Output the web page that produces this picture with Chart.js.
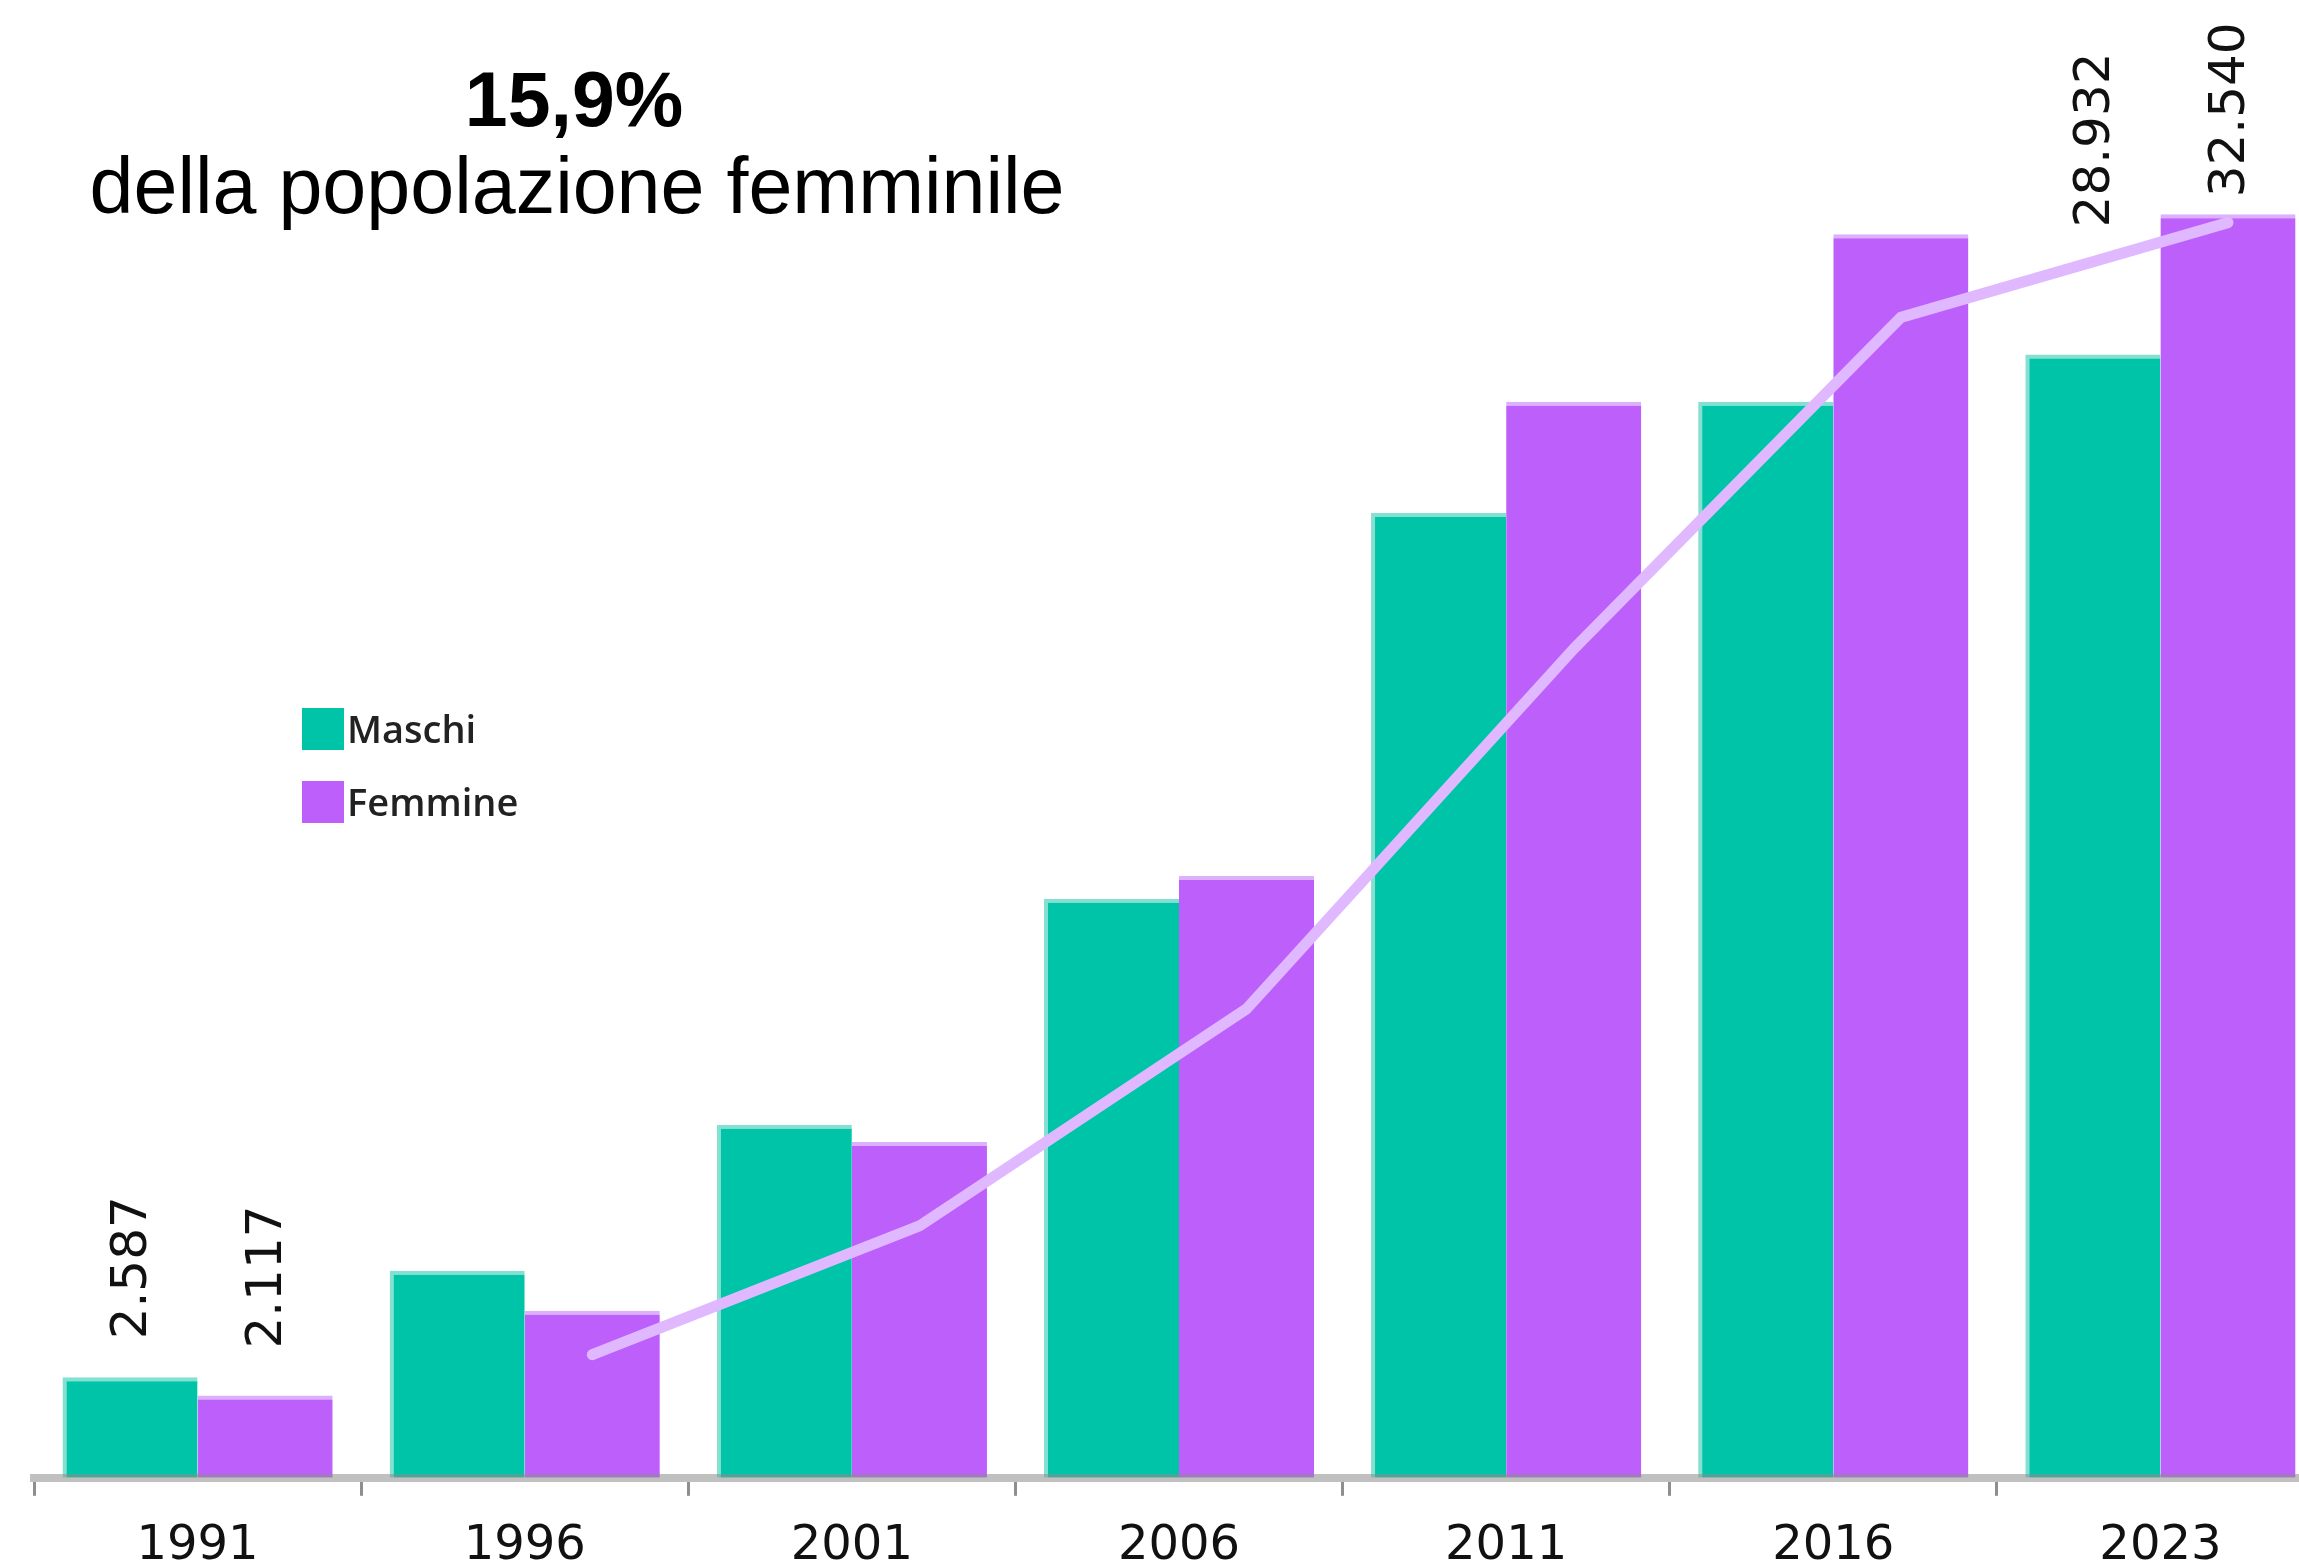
<!DOCTYPE html>
<html lang="it">
<head>
<meta charset="utf-8">
<title>Popolazione femminile</title>
<script src="https://cdn.jsdelivr.net/npm/chart.js@4.4.1/dist/chart.umd.min.js"></script>
<style>
  html, body { margin: 0; padding: 0; background: #fff; overflow: hidden; }
  #wrap { position: relative; width: 2299px; height: 1564px; overflow: hidden; }
  canvas { display: block; }
</style>
</head>
<body>
<div id="wrap"><canvas id="chart" width="2330" height="1597"></canvas></div>
<script>
// dati
const anni = ["1991", "1996", "2001", "2006", "2011", "2016", "2023"];
const maschi = [2587, 5330, 9090, 14910, 24850, 27710, 28932];
const femmine = [2117, 4300, 8650, 15500, 27710, 32030, 32540];
// quota % sulla popolazione femminile (linea), il 1991 non c'e'
const quotaFemminile = [null, 1.56, 3.19, 5.94, 10.5, 14.7, 15.9];
const titolo = "15,9%";
const sottotitolo = "della popolazione femminile";

const verde = "#00c4a8", viola = "#bc5ffb", lilla = "#e0b8ff";
const catPct = 0.826;
const yMax = 38060, y1Max = 18.72;

// etichette ruotate: serie, indice, distacco dalla barra
const etichette = [
  { serie: 0, idx: 0, stacco: 38 },
  { serie: 1, idx: 0, stacco: 47 },
  { serie: 0, idx: 6, stacco: 127 },
  { serie: 1, idx: 6, stacco: 17 }
];

function fmt(v) {
  return String(v).replace(/\B(?=(\d{3})+(?!\d))/g, ".");
}

// la linea passa sul centro delle barre "Femmine"
function spostamentoLinea(chart) {
  const bar = chart.getDatasetMeta(1).data[0];
  return bar.x - chart.scales.x.getPixelForValue(0);
}

const decorazioni = {
  id: "decorazioni",
  beforeDatasetDraw(chart, args) {
    if (args.meta.type !== "line") return;
    chart.ctx.save();
    chart.ctx.translate(spostamentoLinea(chart), 0);
  },
  afterDatasetDraw(chart, args) {
    if (args.meta.type !== "line") return;
    chart.ctx.restore();
  },
  afterDraw(chart) {
    const c = chart.ctx;
    c.save();
    c.fillStyle = "#000";
    c.textAlign = "center";
    c.textBaseline = "alphabetic";
    c.font = 'bold 77px "Liberation Sans", Arial, sans-serif';
    c.fillText(titolo, 574, 126);
    c.font = '79px "Liberation Sans", Arial, sans-serif';
    c.fillText(sottotitolo, 577, 213);

    // legenda
    c.textAlign = "left";
    c.font = '600 38px "Open Sans", sans-serif';
    const voci = chart.data.datasets.filter(d => d.type !== "line");
    voci.forEach((d, k) => {
      const top = 708 + k * 73;
      c.fillStyle = d.backgroundColor;
      c.fillRect(302, top, 42, 42);
      c.fillStyle = "#222";
      c.fillText(d.label, 347, top + 35);
    });

    // valori sulle barre
    c.fillStyle = "#111";
    c.font = '50px "DejaVu Sans", sans-serif';
    c.textBaseline = "middle";
    etichette.forEach(e => {
      const bar = chart.getDatasetMeta(e.serie).data[e.idx];
      const v = chart.data.datasets[e.serie].data[e.idx];
      c.save();
      c.translate(bar.x + 3, bar.y - e.stacco);
      c.rotate(-Math.PI / 2);
      c.fillText(fmt(v), 0, 0);
      c.restore();
    });
    c.restore();
  }
};

new Chart(document.getElementById("chart"), {
  type: "bar",
  data: {
    labels: anni,
    datasets: [
      {
        label: "Maschi",
        data: maschi,
        backgroundColor: verde,
        borderColor: "#86e0d2",
        borderWidth: { top: 4, left: 4, right: 0, bottom: 0 },
        borderSkipped: false,
        barPercentage: 1,
        categoryPercentage: catPct,
        order: 1
      },
      {
        label: "Femmine",
        data: femmine,
        backgroundColor: viola,
        borderColor: "#dbb1fd",
        borderWidth: { top: 4, left: 0, right: 0, bottom: 0 },
        borderSkipped: false,
        barPercentage: 1,
        categoryPercentage: catPct,
        order: 1
      },
      {
        type: "line",
        label: "Quota",
        data: quotaFemminile,
        yAxisID: "y1",
        borderColor: lilla,
        borderWidth: 11,
        borderCapStyle: "round",
        borderJoinStyle: "round",
        pointRadius: 0,
        tension: 0,
        fill: false,
        order: 0
      }
    ]
  },
  options: {
    responsive: false,
    animation: false,
    devicePixelRatio: 1,
    layout: { padding: { left: 34, right: 6, top: 0, bottom: 0 } },
    plugins: {
      legend: { display: false },
      tooltip: { enabled: false },
      title: { display: false }
    },
    scales: {
      x: {
        type: "category",
        offset: true,
        grid: {
          offset: true,
          drawOnChartArea: false,
          tickLength: 18,
          color: "#8e8e8e",
          lineWidth: 3,
          z: 1
        },
        border: { color: "rgba(140,140,140,0.55)", width: 8, z: 1 },
        ticks: {
          color: "#111",
          font: { family: "DejaVu Sans", size: 48, lineHeight: 0.9 },
          padding: 29,
          maxRotation: 0,
          autoSkip: false
        }
      },
      y: { display: false, min: 0, max: yMax },
      y1: { display: false, min: 0, max: y1Max }
    }
  },
  plugins: [decorazioni]
});
</script>
</body>
</html>
